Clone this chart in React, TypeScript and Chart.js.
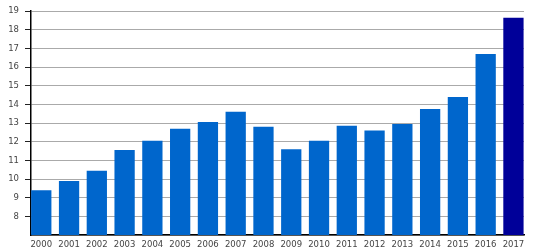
import React, { useEffect, useRef } from "react";
import { Chart, registerables } from "chart.js";

Chart.register(...registerables);

const years = ["2000","2001","2002","2003","2004","2005","2006","2007","2008","2009","2010","2011","2012","2013","2014","2015","2016","2017"];
const values = [9.4, 9.9, 10.45, 11.55, 12.05, 12.7, 13.05, 13.6, 12.8, 11.6, 12.05, 12.85, 12.6, 12.95, 13.75, 14.4, 16.7, 18.65];
const barColor = "#0066cc";
const lastColor = "#000099";

export default function App() {
  const ref = useRef<HTMLCanvasElement | null>(null);
  useEffect(() => {
    const canvas = ref.current;
    if (!canvas) return;
    const chart = new Chart(canvas, {
      type: "bar",
      data: {
        datasets: [
          {
            data: values.map((v, i) => ({ x: i, y: v })),
            backgroundColor: values.map((_, i) => (i === values.length - 1 ? lastColor : barColor)),
            barPercentage: 0.73,
            categoryPercentage: 1,
          },
        ],
      },
      options: {
        responsive: false,
        animation: false,
        layout: { padding: { top: 10, right: 14, left: 0, bottom: 0 } },
        plugins: { legend: { display: false }, tooltip: { enabled: false } },
        scales: {
          x: {
            type: "linear",
            offset: false,
            min: -0.37,
            max: years.length - 1 + 0.38,
            grid: { display: false, drawTicks: false, offset: false },
            border: { display: true, color: "#000", width: 1.5 },
            ticks: {
              stepSize: 1,
              includeBounds: false,
              autoSkip: false,
              maxRotation: 0,
              padding: 5,
              color: "#444",
              font: { family: "DejaVu Sans", size: 8.5 },
              callback: (v: any) => years[v as number] ?? "",
            },
            afterFit: (s: any) => { s.height = 15; },
          },
          y: {
            min: 7,
            max: 19,
            grid: {
              color: "#aaaaaa",
              lineWidth: 1,
              tickColor: (ctx: any) => (ctx.tick && ctx.tick.value === 7 ? "rgba(0,0,0,0)" : "#222"),
              tickLength: 6,
            },
            border: { display: true, color: "#000", width: 1.5 },
            ticks: {
              stepSize: 1,
              padding: 6,
              color: "#444",
              font: { family: "DejaVu Sans", size: 8.5 },
              callback: (v: any) => (v === 7 ? "" : String(v)),
            },
            afterFit: (s: any) => { s.width = 31; },
          },
        },
      },
    });
    return () => chart.destroy();
  }, []);
  return (
    <div style={{ position: "fixed", left: 0, top: 0, width: 538, height: 250, background: "#fff" }}>
      <canvas ref={ref} width={538} height={250} style={{ display: "block" }} />
    </div>
  );
}
